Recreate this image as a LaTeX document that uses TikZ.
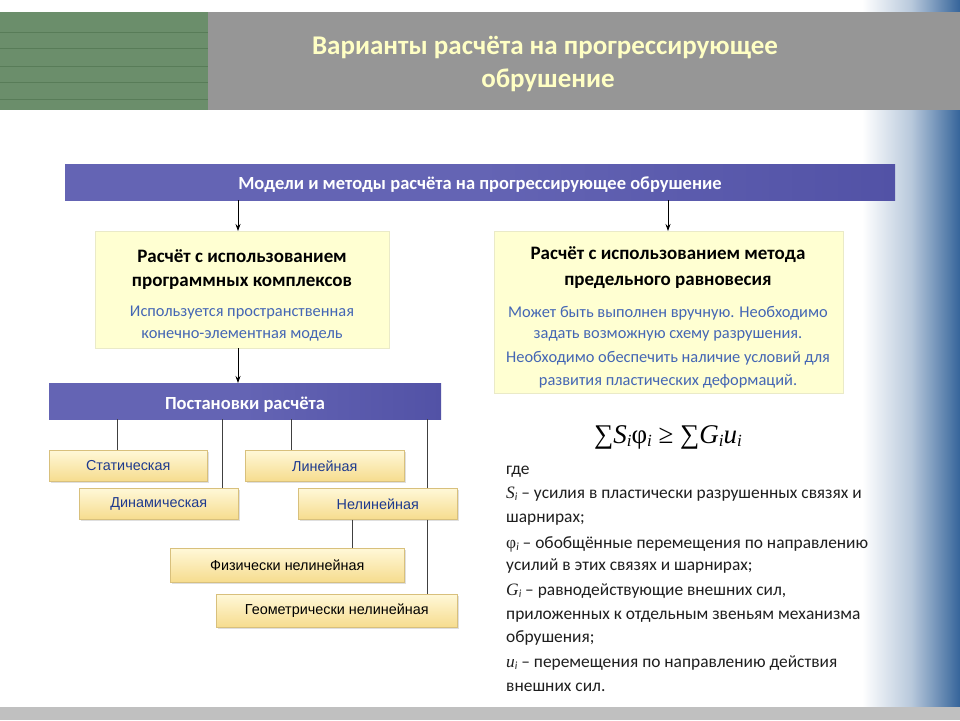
\documentclass[tikz,border=0pt]{standalone}
\usepackage{fontspec}
\setmainfont{Carlito}
\newfontfamily\arialf{Liberation Sans}
\newfontfamily\timesf{Liberation Serif}
\usetikzlibrary{shadows,arrows.meta}
\definecolor{greenbk}{HTML}{6B8E6B}
\definecolor{greenln}{HTML}{587C58}
\definecolor{headgray}{HTML}{969696}
\definecolor{titleyel}{HTML}{FFFFC4}
\definecolor{barpur}{HTML}{6464B4}
\definecolor{barpurd}{HTML}{5252A6}
\definecolor{boxyel}{HTML}{FFFFD2}
\definecolor{boxedge}{HTML}{EAEAC8}
\definecolor{bluetxt}{HTML}{4466B4}
\definecolor{smtop}{HTML}{FFF8D8}
\definecolor{smbot}{HTML}{F6DC8E}
\definecolor{smedge}{HTML}{D8C07C}
\definecolor{smtxt}{HTML}{1E3A8E}
\definecolor{sideblue}{HTML}{35649A}
\definecolor{bandgray}{HTML}{C0C0C0}
\definecolor{bodytxt}{HTML}{1E1E1E}
\newcommand\isub[1]{\raisebox{-0.3ex}{\fontsize{17}{17}\selectfont\itshape #1}}
\newcommand\tsub[1]{\raisebox{-0.3ex}{\fontsize{11}{11}\selectfont\itshape #1}}
\tikzset{
  barbox/.style={draw=none, left color=barpur, right color=barpurd, middle color=barpur, inner sep=0pt},
  bartext/.style={text=white, font=\bfseries\fontsize{18.5}{20}\selectfont},
  bigbox/.style={draw=boxedge, fill=boxyel, inner sep=0pt},
  bigtitle/.style={font=\bfseries\fontsize{19}{22}\selectfont, text=black, inner sep=0pt},
  bluenote/.style={font=\fontsize{16.4}{18}\selectfont, text=bluetxt, inner sep=0pt},
  smbox/.style={draw=smedge, line width=0.5pt, top color=smtop, bottom color=smbot, font=\arialf\fontsize{14.4}{16}\selectfont, text=smtxt, inner sep=0pt, anchor=north west,
    drop shadow={opacity=0.25, shadow xshift=2pt, shadow yshift=-2pt}},
  arr/.style={-{Stealth[length=7pt,width=5pt]}, line width=0.8pt, black},
  conn/.style={line width=0.9pt, draw=black!75},
  body/.style={font=\fontsize{17.4}{19}\selectfont, text=bodytxt, anchor=base west, inner sep=0pt}
}
\begin{document}
\begin{tikzpicture}[x=1pt,y=-1pt]
\useasboundingbox (0,0) rectangle (960,720);
\fill[white] (0,0) rectangle (960,720);
% right gradient
\shade[left color=white, right color=sideblue, middle color=sideblue!35] (862,0) rectangle (960,708);
% bottom band
\fill[bandgray] (0,707) rectangle (960,720);
% header
\fill[headgray] (208,12) rectangle (960,110);
\fill[greenbk] (0,12) rectangle (208,110);
\foreach \yy in {32,48,66,82,99} \draw[greenln, line width=0.8pt] (0,\yy) -- (208,\yy);
\node[font=\bfseries\fontsize{27}{30}\selectfont, text=titleyel] (title1) at (545,48) {Варианты расчёта на прогрессирующее};
\node[font=\bfseries\fontsize{27}{30}\selectfont, text=titleyel] (title2) at (548,80) {обрушение};
% top bar
\node[barbox, anchor=north west, minimum width=830pt, minimum height=36pt] (top) at (65,164) {};
\node[bartext] (toptxt) at (480,185) {Модели и методы расчёта на прогрессирующее обрушение};
% big boxes
\node[bigbox, anchor=north west, minimum width=294pt, minimum height=117pt] (lbox) at (95,231) {};
\node[bigtitle] (lt1) at (242,256) {Расчёт с использованием};
\node[bigtitle] (lt2) at (242,283) {программных комплексов};
\node[bluenote] (ln1) at (242,313) {Используется пространственная};
\node[bluenote] (ln2) at (242,336) {конечно-элементная модель};
\node[bigbox, anchor=north west, minimum width=349pt, minimum height=162pt] (rbox) at (494,231) {};
\node[bigtitle] (rt1) at (668,255) {Расчёт с использованием метода};
\node[bigtitle] (rt2) at (668,282) {предельного равновесия};
\node[bluenote] (rn1) at (668,313) {Может быть выполнен вручную. Необходимо};
\node[bluenote] (rn2) at (668,336) {задать возможную схему разрушения.};
\node[bluenote] (rn3) at (668,358) {Необходимо обеспечить наличие условий для};
\node[bluenote] (rn4) at (668,381) {развития пластических деформаций.};
% Postanovki bar
\node[barbox, anchor=north west, minimum width=392pt, minimum height=36pt] (post) at (49,383) {};
\node[bartext] (posttxt) at (245,405) {Постановки расчёта};
% arrows
\coordinate (ax1) at (238,0);
\coordinate (ax2) at (668,0);
\draw[arr] (top.south -| ax1) -- (lbox.north -| ax1);
\draw[arr] (top.south -| ax2) -- (rbox.north -| ax2);
\draw[arr] (lbox.south -| ax1) -- (post.north -| ax1);
% small boxes
\node[smbox, minimum width=158pt, minimum height=31pt] (stat) at (49,450) {Статическая};
\node[smbox, minimum width=159pt, minimum height=31pt] (lin) at (245,450) {Линейная};
\node[smbox, minimum width=159pt, minimum height=31pt] (dyn) at (79,488) {Динамическая};
\node[smbox, minimum width=159pt, minimum height=31pt] (nel) at (298,488) {Нелинейная};
\node[smbox, minimum width=234pt, minimum height=34pt, text=black] (fiz) at (170,548) {Физически нелинейная};
\node[smbox, minimum width=241pt, minimum height=33pt, text=black] (geo) at (216,594) {Геометрически нелинейная};
% connectors
\coordinate (c1) at (117,0);
\coordinate (c2) at (222,0);
\coordinate (c3) at (291,0);
\coordinate (c4) at (427,0);
\coordinate (c5) at (352,0);
\draw[conn] (post.south -| c1) -- (stat.north -| c1);
\draw[conn] (post.south -| c2) -- (dyn.north -| c2);
\draw[conn] (post.south -| c3) -- (lin.north -| c3);
\draw[conn] (post.south -| c4) -- (nel.north -| c4);
\draw[conn] (nel.south -| c4) -- (geo.north -| c4);
\draw[conn] (nel.south -| c5) -- (fiz.north -| c5);
% formula
\node[font=\timesf\fontsize{27}{30}\selectfont, text=black] (formula) at (668,437) {∑\textit{S}\isub{i}φ\isub{i} ≥ ∑\textit{G}\isub{i}\textit{u}\isub{i}};
% explanation
\node[body] (e1) at (506,474) {где};
\node[body] (e2) at (506,498) {{\timesf\itshape S}\tsub{i} – усилия в пластически разрушенных связях и};
\node[body] (e3) at (506,522) {шарнирах;};
\node[body] (e4) at (506,548) {{\timesf φ}\tsub{i} – обобщённые перемещения по направлению};
\node[body] (e5) at (506,570) {усилий в этих связях и шарнирах;};
\node[body] (e6) at (506,595) {{\timesf\itshape G}\tsub{i} – равнодействующие внешних сил,};
\node[body] (e7) at (506,619) {приложенных к отдельным звеньям механизма};
\node[body] (e8) at (506,642) {обрушения;};
\node[body] (e9) at (506,667) {{\timesf\itshape u}\tsub{i} – перемещения по направлению действия};
\node[body] (e10) at (506,691) {внешних сил.};
\end{tikzpicture}
\end{document}
